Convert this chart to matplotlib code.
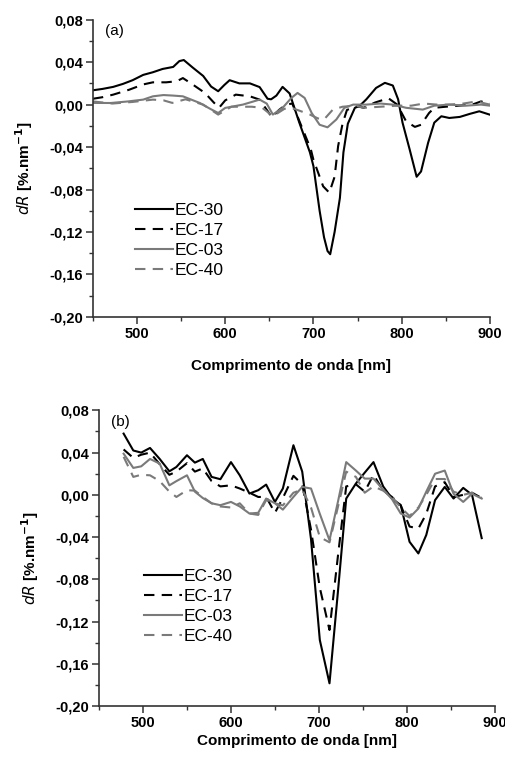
import matplotlib
matplotlib.use("Agg")
import matplotlib.pyplot as plt
from matplotlib.ticker import MultipleLocator, FuncFormatter

plt.rcParams['font.family'] = ['Liberation Sans', 'DejaVu Sans']

# ---- painel (a) ----
wl_a_30 = [450, 461, 473, 484, 495, 507, 518, 529, 541, 548, 553, 563, 575, 584, 592, 599,
           605, 616, 628, 639, 648, 652, 658, 665, 673, 684, 696, 700, 707, 712, 716, 719,
           724, 730, 734, 739, 747, 752, 760, 771, 781, 790, 796, 801, 809, 817, 822, 830,
           837, 845, 854, 866, 877, 888, 900]
dr_a_30 = [0.0135, 0.0148, 0.0167, 0.0195, 0.023, 0.028, 0.0305, 0.0336, 0.0355, 0.041, 0.042,
           0.035, 0.027, 0.017, 0.0126, 0.0185, 0.023, 0.020, 0.020, 0.0165, 0.0055, 0.005,
           0.0085, 0.0167, 0.0105, -0.017, -0.045, -0.058, -0.100, -0.125, -0.138, -0.141,
           -0.120, -0.088, -0.045, -0.018, -0.003, -0.0015, 0.005, 0.0157, 0.0205, 0.018,
           0.005, -0.017, -0.042, -0.068, -0.063, -0.036, -0.017, -0.011, -0.0126, -0.0116,
           -0.0088, -0.0063, -0.0095]

wl_a_17 = [450, 461, 473, 491, 507, 518, 533, 545, 552, 563, 577, 587, 593, 600, 612, 628,
           639, 648, 653, 661, 669, 676, 688, 697, 700, 711, 718, 724, 728, 733, 738, 750,
           757, 770, 785, 795, 805, 815, 822, 831, 837, 850, 865, 880, 890, 900]
dr_a_17 = [0.0055, 0.007, 0.0094, 0.014, 0.019, 0.021, 0.021, 0.022, 0.025, 0.019, 0.011,
           0.002, -0.003, 0.004, 0.0094, 0.0078, 0.0047, -0.006, -0.012, -0.005, 0.000,
           0.001, -0.0236, -0.042, -0.052, -0.077, -0.083, -0.068, -0.039, -0.018, -0.005,
           -0.0016, -0.003, 0.002, 0.006, 0.0, -0.0157, -0.021, -0.019, -0.008, -0.003,
           -0.002, -0.001, 0.000, 0.003, 0.001]

wl_a_03 = [450, 470, 490, 507, 518, 530, 541, 552, 571, 583, 592, 600, 620, 639, 647, 654,
           665, 675, 682, 690, 698, 707, 716, 726, 735, 745, 760, 776, 790, 805, 824, 837,
           854, 873, 890, 900]
dr_a_03 = [0.0016, 0.0015, 0.003, 0.0047, 0.0078, 0.009, 0.0085, 0.0078, 0.0016, -0.004,
           -0.0079, -0.0031, 0.000, 0.0047, 0.001, -0.0094, -0.0031, 0.0063, 0.011, 0.0063,
           -0.0079, -0.019, -0.0214, -0.014, -0.0031, 0.000, 0.000, 0.001, 0.000, -0.003,
           -0.0047, -0.001, 0.000, -0.001, 0.000, -0.001]

wl_a_40 = [450, 472, 495, 518, 530, 540, 555, 575, 592, 607, 630, 642, 654, 667, 675, 685,
           696, 705, 712, 722, 733, 748, 757, 776, 795, 811, 825, 840, 854, 870, 885, 900]
dr_a_40 = [0.003, 0.001, 0.0025, 0.0047, 0.004, 0.0016, 0.005, 0.000, -0.0094, -0.002,
           -0.002, -0.003, -0.011, -0.004, -0.003, -0.006, -0.0094, -0.013, -0.014, -0.0047,
           -0.002, -0.001, -0.003, -0.002, -0.001, -0.001, 0.001, 0.000, 0.000, 0.001,
           0.003, 0.000]

# ---- painel (b) ----
wl_b = [478, 489, 498, 508, 519, 530, 538, 550, 559, 568, 578, 588, 600, 610, 621, 631,
        640, 650, 659, 671, 681, 691, 701, 712, 722, 731, 742, 752, 762, 773, 783, 793,
        803, 813, 822, 832, 843, 853, 864, 874, 885]
dr_b_30 = [0.058, 0.042, 0.040, 0.0444, 0.034, 0.0223, 0.0264, 0.0375, 0.0305, 0.034, 0.017,
           0.0148, 0.031, 0.0185, 0.0012, 0.0044, 0.0097, -0.0067, 0.006, 0.047, 0.022,
           -0.042, -0.1375, -0.1785, -0.088, -0.0035, 0.0107, 0.021, 0.031, 0.008, -0.0035,
           -0.0098, -0.0445, -0.0555, -0.038, -0.005, 0.0075, -0.0035, 0.0066, 0.000, -0.041]
dr_b_17 = [0.043, 0.035, 0.038, 0.040, 0.029, 0.019, 0.022, 0.030, 0.022, 0.025, 0.013,
           0.008, 0.009, 0.006, 0.002, -0.002, -0.002, -0.017, -0.003, 0.018, 0.010,
           -0.033, -0.088, -0.128, -0.055, 0.008, 0.010, 0.003, 0.019, 0.004, -0.002,
           -0.010, -0.030, -0.032, -0.018, 0.008, 0.012, -0.002, 0.000, 0.002, -0.003]
dr_b_03 = [0.039, 0.0255, 0.027, 0.034, 0.0296, 0.009, 0.013, 0.0185, 0.003, -0.003, -0.008,
           -0.0098, -0.0067, -0.011, -0.0177, -0.017, -0.0035, -0.008, -0.014, -0.002,
           0.0075, 0.006, -0.018, -0.043, -0.005, 0.031, 0.023, 0.0154, 0.0154, 0.005,
           -0.004, -0.0177, -0.0215, -0.013, 0.003, 0.020, 0.023, 0.001, -0.0067, 0.001,
           -0.0035]
dr_b_40 = [0.036, 0.017, 0.019, 0.0185, 0.013, 0.003, -0.002, 0.0044, 0.004, -0.002, -0.008,
           -0.011, -0.012, -0.008, -0.0177, -0.019, -0.005, -0.008, -0.010, 0.002, 0.005,
           -0.012, -0.040, -0.045, -0.010, 0.022, 0.017, 0.002, 0.008, 0.004, -0.002,
           -0.012, -0.020, -0.012, 0.000, 0.015, 0.015, 0.003, 0.000, 0.002, -0.003]

nomes = ['EC-30', 'EC-17', 'EC-03', 'EC-40']
cores = ['black', 'black', '#7a7a7a', '#7a7a7a']
estilos = ['-', (0, (5, 3.5)), '-', (0, (5, 3.5))]


def virgula(v, pos):
    return ('%.2f' % v).replace('.', ',').replace('-0,00', '0,00')


def montar(ax, letra, leg_xy, xpad):
    ax.set_xlim(450, 900)
    ax.set_ylim(-0.20, 0.08)
    ax.xaxis.set_major_locator(MultipleLocator(100))
    ax.xaxis.set_minor_locator(MultipleLocator(50))
    ax.yaxis.set_major_locator(MultipleLocator(0.04))
    ax.yaxis.set_minor_locator(MultipleLocator(0.02))
    ax.yaxis.set_major_formatter(FuncFormatter(virgula))
    for s in ['top', 'right']:
        ax.spines[s].set_visible(False)
    for s in ['left', 'bottom']:
        ax.spines[s].set_linewidth(1.2)
        ax.spines[s].set_color('#333333')
    ax.tick_params(which='major', direction='out', length=5, width=1.1, labelsize=10.5,
                   colors='#333333', labelcolor='black', pad=2)
    ax.tick_params(which='minor', direction='out', length=3, width=1.0, colors='#333333')
    for t in ax.get_xticklabels() + ax.get_yticklabels():
        t.set_fontweight('bold')
    ax.set_xlabel('Comprimento de onda [nm]', fontsize=11, fontweight='bold', labelpad=xpad)
    ax.set_ylabel(r'$\mathbf{\mathit{dR}}$ [%.nm$^{\mathbf{-1}}$]', fontsize=11,
                  fontweight='bold', labelpad=10)
    ax.text(0.03, 0.985, letra, transform=ax.transAxes, fontsize=11, va='top', ha='left')
    ax.legend(loc='lower left', bbox_to_anchor=leg_xy, frameon=False, fontsize=12.5,
              handlelength=2.2, handletextpad=0.1, labelspacing=0.28, borderaxespad=0,
              borderpad=0)


fig = plt.figure(figsize=(5.05, 7.58), dpi=100)

ax1 = fig.add_axes([0.184, 0.582, 0.786, 0.392])
series_a = [(wl_a_30, dr_a_30), (wl_a_17, dr_a_17), (wl_a_03, dr_a_03), (wl_a_40, dr_a_40)]
for (x, y), nome, cor, ls in zip(series_a, nomes, cores, estilos):
    ax1.plot(x, y, color=cor, linestyle=ls, linewidth=1.5, label=nome)
montar(ax1, '(a)', (0.105, 0.13), 13)

ax2 = fig.add_axes([0.196, 0.0686, 0.784, 0.390])
series_b = [dr_b_30, dr_b_17, dr_b_03, dr_b_40]
for y, nome, cor, ls in zip(series_b, nomes, cores, estilos):
    ax2.plot(wl_b, y, color=cor, linestyle=ls, linewidth=1.5, label=nome)
montar(ax2, '(b)', (0.113, 0.21), 3)

fig.savefig('out.png', dpi=100)
